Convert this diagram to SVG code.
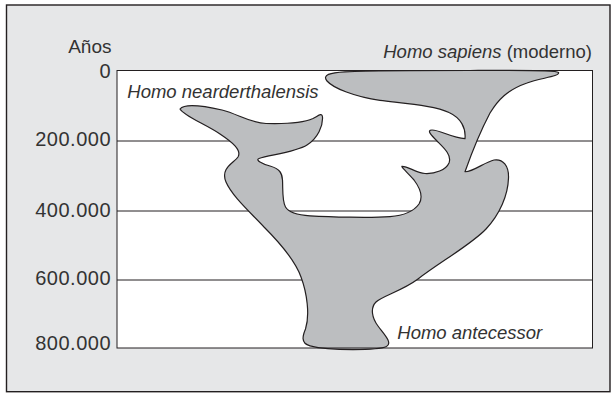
<svg xmlns="http://www.w3.org/2000/svg" width="612" height="394" viewBox="0 0 612 394">
<style>
.lbl{font-family:"Liberation Sans",Arial,sans-serif;fill:#333333;}
.num{font-size:20px;letter-spacing:0.5px;text-anchor:end;}
.sp{font-size:18.5px;font-style:italic;}
.grid{stroke:#231f20;stroke-width:1;fill:none;}
</style>
<rect id="frame" x="6.5" y="5" width="603.5" height="386.7" fill="#e6e7e8" stroke="#231f20" stroke-width="1.4"/>
<g id="plot">
<rect x="117" y="70.5" width="475.5" height="277.5" fill="#ffffff"/>
<g id="gridlines">
<line class="grid" x1="117" y1="141" x2="592.5" y2="141"/>
<line class="grid" x1="117" y1="211" x2="592.5" y2="211"/>
<line class="grid" x1="117" y1="280" x2="592.5" y2="280"/>
</g>
</g>
<g id="tree">
<path fill="#bcbec0" stroke="#231f20" stroke-width="1.2" stroke-linejoin="round" d="M180,109 C184,104 200,105 222,110 C238,114 250,123 266,123.5 C284,124 303,123 313,118.5 C318,116 322,112 322.5,117 C323,126 318,138 307,145 C296,152 270,155 259,158.5 C255,160 262,164 270,166 C280,169 282,173 282.5,180 C283,190 282,201 285.5,207 C289,213 298,215 310,215.8 C330,217 370,218 390,216.6 C405,215.5 414,211 419,204 C424,196 420,188 414,180 C409,174 401,167 402,166.3 C408,166 416,173 425,173.5 C435,174 446,170 449,163 C452,155 444,148 437,141 C432,136 426,130 432,130 C440,130 452,138 465,138.6 C466,128 461,118 449,112.5 C436,106 410,104 380,100.3 C355,97 333,88 327,81 C322,75 330,72.5 345,71.8 C380,70.5 430,70.5 470,70.5 C520,70.3 557,70 558.5,72.5 C560,76.5 540,78 527,83 C507,90 498,100 490,113 C480,132 472,152 465,171.7 C472,172.5 485,162 494,160 C503,158.5 509,166 508.5,178 C508,195 500,214 486,229 C472,244 440,262 418,279 C402,291 382,296 376,302 C370,308 372,318 378,326 C384,334 393,343 386.5,346.5 C378,350.5 330,351 310,345.8 C300,343 303,335 305.5,329 C310,315 307,293 301,277 C295,260 278,241 264,227 C250,212 232,196 226,182 C220,168 234,163 238,157 C242,150 232,142 220,134 C205,124 184,116 180,109 Z"/>
</g>
<g id="plot-border">
<rect x="117" y="70.5" width="475.5" height="277.5" fill="none" stroke="#231f20" stroke-width="1"/>
</g>
<g id="axis-labels">
<text class="lbl" x="111.5" y="52.7" font-size="19px" text-anchor="end">Años</text>
<text class="lbl num" x="111" y="77.5">0</text>
<text class="lbl num" x="111" y="146">200.000</text>
<text class="lbl num" x="111" y="216.5">400.000</text>
<text class="lbl num" x="111" y="284.5">600.000</text>
<text class="lbl num" x="111" y="350">800.000</text>
</g>
<g id="species-labels">
<text id="sapiens" class="lbl" x="592" y="58.3" font-size="18.5px" text-anchor="end"><tspan font-style="italic">Homo sapiens</tspan> (moderno)</text>
<text id="neanderthalensis" class="lbl sp" x="127.3" y="98.3">Homo nearderthalensis</text>
<text id="antecessor" class="lbl sp" x="397.3" y="339">Homo antecessor</text>
</g>
</svg>
